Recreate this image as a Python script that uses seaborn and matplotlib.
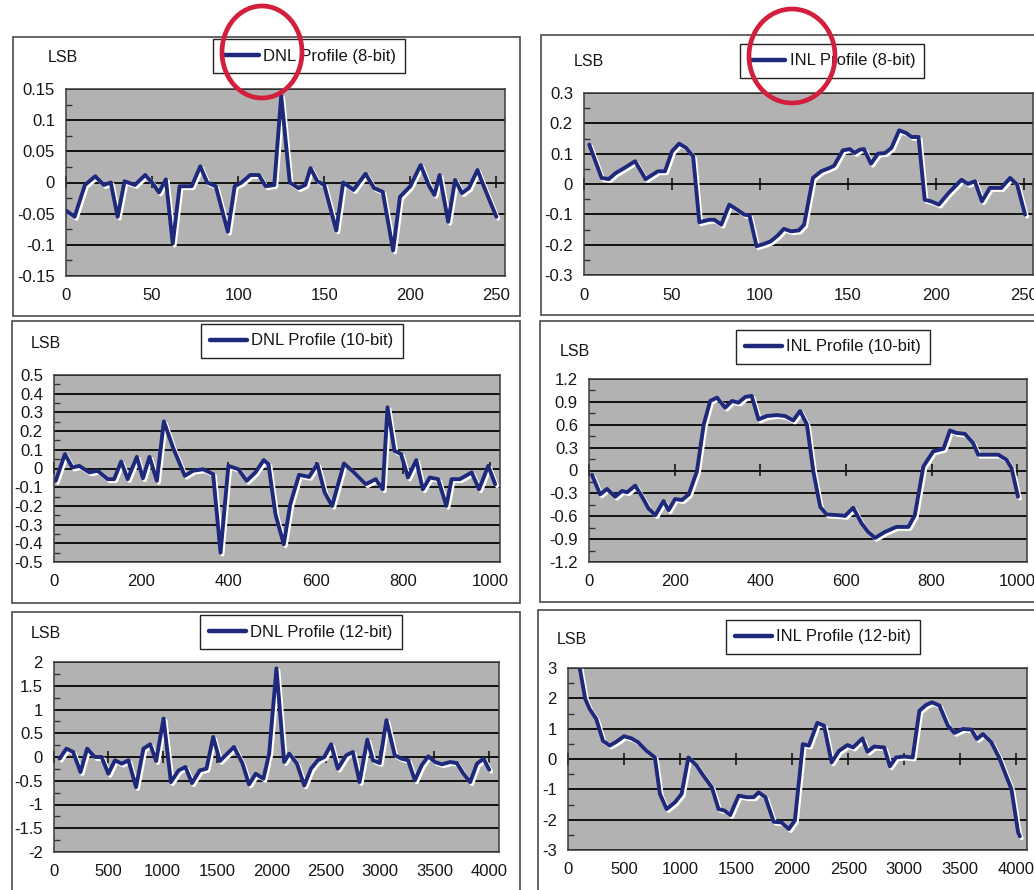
import seaborn as sns
import matplotlib.pyplot as plt
import matplotlib.patheffects as pe
from matplotlib.patches import Rectangle, Ellipse
from matplotlib.ticker import MultipleLocator, FuncFormatter

# ---- data (code vs. error in LSB) ----
dnl8_code = [0, 5, 11, 17, 22, 26, 30, 34, 40, 46, 50, 54, 58, 62, 66, 73, 78, 82, 87,
             94, 98, 102, 107, 112, 116, 121, 125, 130, 135, 139, 142, 146, 150, 157,
             161, 167, 174, 179, 184, 190, 194, 200, 206, 211, 214, 217, 222, 226, 230,
             234, 239, 244, 250]
dnl8_lsb = [-0.045, -0.055, -0.004, 0.01, -0.004, 0.0, -0.055, 0.002, -0.004, 0.012, 0.0,
            -0.016, 0.005, -0.098, -0.006, -0.006, 0.026, 0.0, -0.006, -0.079, -0.006, 0.0,
            0.012, 0.012, -0.006, -0.004, 0.139, 0.0, -0.009, -0.004, 0.023, 0.002, -0.004,
            -0.077, 0.0, -0.012, 0.014, -0.009, -0.015, -0.109, -0.023, -0.006, 0.028,
            -0.006, -0.02, 0.012, -0.063, 0.004, -0.017, -0.009, 0.02, -0.015, -0.055]

inl8_code = [3, 10, 14, 18, 23, 29, 35, 39, 42, 46, 50, 54, 58, 62, 65.5, 71, 74, 78, 82.5,
             87, 91, 94, 98, 102.5, 106, 110, 113.5, 117.6, 122, 125, 130, 134.7, 139.5,
             142, 147, 151, 153.7, 156.5, 159, 163, 167, 171, 174.6, 179, 183, 186, 190,
             193.5, 197, 201.5, 207, 214.4, 218, 222, 226, 230.5, 237, 242, 246, 250.5]
inl8_lsb = [0.13, 0.02, 0.016, 0.036, 0.053, 0.075, 0.016, 0.031, 0.042, 0.042, 0.108,
            0.133, 0.119, 0.091, -0.126, -0.118, -0.118, -0.134, -0.068, -0.085, -0.101,
            -0.104, -0.205, -0.197, -0.189, -0.17, -0.148, -0.156, -0.153, -0.134, 0.02,
            0.042, 0.053, 0.06, 0.111, 0.115, 0.102, 0.113, 0.115, 0.067, 0.1, 0.102, 0.119,
            0.177, 0.168, 0.155, 0.155, -0.052, -0.057, -0.068, -0.03, 0.014, 0.0, 0.009,
            -0.057, -0.013, -0.013, 0.02, -0.002, -0.101]

dnl10_code = [4, 25, 42, 58, 81, 100, 123, 138, 154, 169, 190, 204, 219, 236, 252, 273,
              300, 319, 342, 365, 382, 400, 423, 442, 462, 481, 492, 508, 527, 542, 562,
              585, 604, 621, 638, 665, 688, 715, 738, 754, 765, 781, 796, 812, 831, 846,
              862, 881, 900, 912, 931, 958, 975, 996, 1012]
dnl10_lsb = [-0.066, 0.077, 0.005, 0.014, -0.021, -0.012, -0.057, -0.057, 0.037, -0.057,
             0.062, -0.052, 0.062, -0.066, 0.252, 0.112, -0.039, -0.012, -0.004, -0.03,
             -0.45, 0.014, -0.004, -0.066, -0.021, 0.045, 0.023, -0.245, -0.405, -0.191,
             -0.034, -0.045, 0.023, -0.129, -0.2, 0.027, -0.021, -0.084, -0.057, -0.111,
             0.327, 0.095, 0.077, -0.048, 0.045, -0.111, -0.048, -0.057, -0.2, -0.057,
             -0.057, -0.021, -0.111, 0.014, -0.084]

inl10_code = [7, 26, 42, 61, 77, 89, 108, 124, 139, 155, 174, 186, 201, 217, 233, 252, 268,
              283, 299, 318, 334, 349, 365, 380, 396, 415, 439, 458, 477, 493, 509, 524,
              540, 555, 582, 598, 617, 637, 652, 668, 691, 718, 746, 761, 781, 804, 828,
              843, 858, 878, 897, 909, 932, 956, 975, 987, 1002]
inl10_lsb = [-0.057, -0.313, -0.242, -0.344, -0.269, -0.286, -0.198, -0.344, -0.498,
             -0.586, -0.401, -0.52, -0.374, -0.388, -0.313, -0.013, 0.604, 0.912, 0.956,
             0.824, 0.912, 0.89, 0.965, 0.978, 0.67, 0.714, 0.727, 0.714, 0.656, 0.78,
             0.604, -0.013, -0.476, -0.577, -0.586, -0.595, -0.489, -0.696, -0.806, -0.885,
             -0.806, -0.74, -0.74, -0.586, 0.053, 0.251, 0.286, 0.524, 0.493, 0.48, 0.361,
             0.207, 0.207, 0.207, 0.141, 0.031, -0.344]

dnl12_code = [52, 114, 176, 244, 305, 376, 438, 500, 561, 623, 685, 755, 823, 885, 940,
              1008, 1076, 1147, 1209, 1270, 1341, 1403, 1465, 1526, 1594, 1656, 1733, 1795,
              1856, 1927, 1980, 2047, 2118, 2165, 2236, 2303, 2365, 2427, 2488, 2550, 2612,
              2689, 2750, 2812, 2883, 2935, 2997, 3059, 3136, 3198, 3259, 3321, 3383, 3444,
              3506, 3568, 3645, 3706, 3768, 3830, 3892, 3953, 4005]
dnl12_lsb = [-0.035, 0.176, 0.106, -0.317, 0.176, 0.0, 0.0, -0.352, -0.07, -0.141, -0.07,
             -0.634, 0.176, 0.268, -0.085, 0.81, -0.528, -0.282, -0.211, -0.549, -0.282,
             -0.246, 0.423, -0.085, 0.07, 0.211, -0.127, -0.577, -0.352, -0.458, 0.07, 1.866,
             -0.106, 0.07, -0.141, -0.599, -0.246, -0.07, 0.0, 0.268, -0.246, 0.035, 0.106,
             -0.528, 0.366, -0.07, -0.127, 0.775, 0.035, -0.035, -0.07, -0.493, -0.176,
             0.014, -0.106, -0.155, -0.106, -0.127, -0.352, -0.528, -0.141, -0.035, -0.268]

inl12_code = [95, 154, 193, 252, 312, 372, 432, 500, 566, 626, 700, 775, 820, 880, 954,
              1014, 1074, 1148, 1208, 1283, 1343, 1396, 1447, 1522, 1596, 1656, 1701, 1761,
              1835, 1904, 1970, 2024, 2095, 2149, 2224, 2284, 2352, 2418, 2493, 2543, 2591,
              2627, 2672, 2731, 2821, 2872, 2926, 3000, 3075, 3135, 3194, 3248, 3314, 3389,
              3448, 3523, 3598, 3648, 3702, 3777, 3846, 3897, 3956, 4016, 4031]
inl12_lsb = [3.2, 1.98, 1.65, 1.32, 0.6, 0.44, 0.57, 0.75, 0.68, 0.55, 0.27, 0.05, -1.15,
             -1.65, -1.43, -1.15, 0.05, -0.22, -0.55, -0.93, -1.65, -1.7, -1.85, -1.21,
             -1.26, -1.26, -1.1, -1.26, -2.07, -2.09, -2.31, -2.03, 0.49, 0.44, 1.19, 1.1,
             -0.11, 0.27, 0.46, 0.38, 0.55, 0.68, 0.24, 0.41, 0.38, -0.24, 0.05, 0.08, 0.05,
             1.59, 1.78, 1.87, 1.76, 1.1, 0.86, 0.99, 0.97, 0.66, 0.82, 0.55, 0.05, -0.44,
             -0.99, -2.42, -2.55]

labels = ['DNL Profile (8-bit)', 'INL Profile (8-bit)', 'DNL Profile (10-bit)',
          'INL Profile (10-bit)', 'DNL Profile (12-bit)', 'INL Profile (12-bit)']
series = [(dnl8_code, dnl8_lsb), (inl8_code, inl8_lsb), (dnl10_code, dnl10_lsb),
          (inl10_code, inl10_lsb), (dnl12_code, dnl12_lsb), (inl12_code, inl12_lsb)]
x_max = [255, 255, 1023, 1023, 4095, 4095]
x_step = [50, 50, 200, 200, 500, 500]
y_lim = [0.15, 0.3, 0.5, 1.2, 2, 3]
y_step = [0.05, 0.1, 0.1, 0.3, 0.5, 1]

# layout in pixels of the 1034x890 page: plot area, outer frame, legend centre, "LSB" centre
plot_px = [(66, 89, 505, 276), (584, 93, 1033, 275), (54, 375, 500, 562),
           (589, 379, 1027, 562), (54, 662, 499, 852), (568, 668, 1027, 850)]
frame_px = [(13, 37, 520, 316), (541, 35, 1040, 315), (12, 321, 520, 603),
            (540, 321, 1040, 602), (12, 612, 520, 900), (538, 610, 1040, 900)]
legend_px = [(309, 56), (832, 61), (302, 341), (833, 347), (301, 632), (823, 637)]
lsb_px = [(63, 58), (589, 62), (46, 343), (575, 351), (46, 633), (572, 639)]

W, H = 1034, 890
NAVY = '#1f297b'
GRAY = '#b2b2b2'
INK = '#161616'

sns.set_theme(style='white')
plt.rcParams['font.family'] = ['Liberation Sans', 'DejaVu Sans']
plt.rcParams['axes.unicode_minus'] = False

fig = plt.figure(figsize=(W / 100, H / 100), dpi=100)
fig.patch.set_facecolor('white')


def fbox(x0, y0, x1, y1):
    return [x0 / W, 1 - y1 / H, (x1 - x0) / W, (y1 - y0) / H]


def fmt(v, pos):
    v = round(v, 4)
    if v == 0:
        return '0'
    return '{:g}'.format(v)


# chart frames behind everything
for fr in frame_px:
    b = fbox(*fr)
    fig.add_artist(Rectangle((b[0], b[1]), b[2], b[3], transform=fig.transFigure,
                             facecolor='white', edgecolor='#4a4a4a', linewidth=1.2, zorder=0))

for i in range(6):
    ax = fig.add_axes(fbox(*plot_px[i]))
    ax.set_facecolor(GRAY)
    ax.set_axisbelow(True)
    xs, ys = series[i]
    sns.lineplot(x=xs, y=ys, ax=ax, color=NAVY, linewidth=2.8, label=labels[i],
                 path_effects=[pe.SimpleLineShadow(offset=(1.4, -1.4), shadow_color='white', alpha=1.0),
                               pe.Normal()])
    ax.set_xlim(0, x_max[i])
    ax.set_ylim(-y_lim[i], y_lim[i])
    ax.xaxis.set_major_locator(MultipleLocator(x_step[i]))
    ax.yaxis.set_major_locator(MultipleLocator(y_step[i]))
    ax.yaxis.set_minor_locator(MultipleLocator(y_step[i] / 2))
    ax.yaxis.set_major_formatter(FuncFormatter(fmt))
    ax.grid(axis='y', which='major', color='#111111', linewidth=1.4)
    ax.grid(axis='x', visible=False)
    ax.tick_params(axis='x', length=0, pad=9, labelsize=12, colors=INK)
    ax.tick_params(axis='y', which='major', length=0, pad=8, labelsize=12, colors=INK)
    ax.tick_params(axis='y', which='minor', left=True, direction='in', length=4, width=1, color='#333333')
    for s in ax.spines.values():
        s.set_color('#3a3a3a')
        s.set_linewidth(1.1)
    ax.set_xlabel('')
    ax.set_ylabel('')

    # axis line crossing at zero with small tick marks
    sec = ax.secondary_xaxis(0.5)
    sec.xaxis.set_major_locator(MultipleLocator(x_step[i]))
    sec.tick_params(direction='inout', length=8, width=1.2, color=INK,
                    labeltop=False, labelbottom=False)
    for s in sec.spines.values():
        s.set_visible(False)

    lx, ly = legend_px[i]
    leg = ax.legend(loc='center', bbox_to_anchor=(lx / W, 1 - ly / H),
                    bbox_transform=fig.transFigure, frameon=True, fancybox=False,
                    fontsize=12, handlelength=2.2, handletextpad=0.25, borderpad=0.55,
                    framealpha=1)
    leg.get_frame().set_edgecolor('#222222')
    leg.get_frame().set_linewidth(1.0)
    for h in leg.get_lines():
        h.set_path_effects([])
        h.set_linewidth(3.2)
    for t in leg.get_texts():
        t.set_color(INK)

    cx, cy = lsb_px[i]
    fig.text(cx / W, 1 - cy / H, 'LSB', ha='center', va='center', fontsize=11.5, color=INK)

# hand-drawn red circles on the scan
for (cx, cy, w, h) in [(262, 52, 80, 92), (792, 56, 86, 94)]:
    fig.add_artist(Ellipse((cx / W, 1 - cy / H), w / W, h / H, angle=0,
                           transform=fig.transFigure, fill=False,
                           edgecolor='#d21f3c', linewidth=3.4, zorder=10))

fig.savefig('out.png', dpi=100)
